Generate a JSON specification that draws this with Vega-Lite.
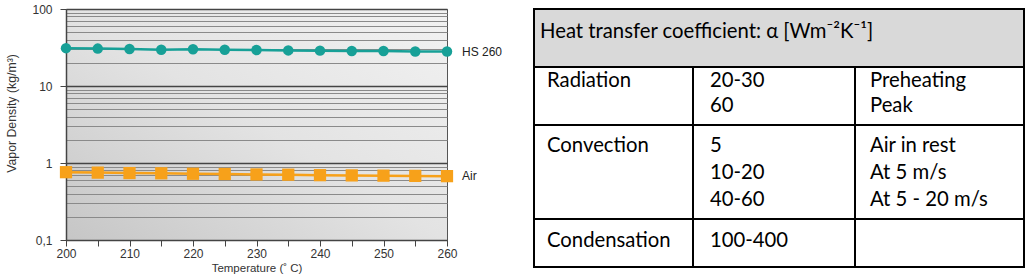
{
  "$schema": "https://vega.github.io/schema/vega-lite/v6.json",
  "background": "white",
  "padding": {"left": 5, "top": 2, "right": 0, "bottom": 0},
  "spacing": 30,
  "bounds": "full",
  "datasets": {
    "vapor": [
      {"series": "HS 260", "temp": 200, "density": 31.0},
      {"series": "HS 260", "temp": 205, "density": 30.6},
      {"series": "HS 260", "temp": 210, "density": 30.3},
      {"series": "HS 260", "temp": 215, "density": 29.5},
      {"series": "HS 260", "temp": 220, "density": 30.0},
      {"series": "HS 260", "temp": 225, "density": 29.6},
      {"series": "HS 260", "temp": 230, "density": 29.3},
      {"series": "HS 260", "temp": 235, "density": 29.0},
      {"series": "HS 260", "temp": 240, "density": 28.8},
      {"series": "HS 260", "temp": 245, "density": 28.5},
      {"series": "HS 260", "temp": 250, "density": 28.5},
      {"series": "HS 260", "temp": 255, "density": 28.1},
      {"series": "HS 260", "temp": 260, "density": 28.0},
      {"series": "Air", "temp": 200, "density": 0.76},
      {"series": "Air", "temp": 205, "density": 0.75},
      {"series": "Air", "temp": 210, "density": 0.74},
      {"series": "Air", "temp": 215, "density": 0.735},
      {"series": "Air", "temp": 220, "density": 0.725},
      {"series": "Air", "temp": 225, "density": 0.72},
      {"series": "Air", "temp": 230, "density": 0.71},
      {"series": "Air", "temp": 235, "density": 0.705},
      {"series": "Air", "temp": 240, "density": 0.695},
      {"series": "Air", "temp": 245, "density": 0.69},
      {"series": "Air", "temp": 250, "density": 0.685},
      {"series": "Air", "temp": 255, "density": 0.68},
      {"series": "Air", "temp": 260, "density": 0.675}
    ],
    "cells": [
      {"left": 0, "right": 490, "top": 0, "bottom": 58, "kind": "header"},
      {"left": 0, "right": 159, "top": 58, "bottom": 116, "kind": "body"},
      {"left": 159, "right": 321, "top": 58, "bottom": 116, "kind": "body"},
      {"left": 321, "right": 490, "top": 58, "bottom": 116, "kind": "body"},
      {"left": 0, "right": 159, "top": 116, "bottom": 210, "kind": "body"},
      {"left": 159, "right": 321, "top": 116, "bottom": 210, "kind": "body"},
      {"left": 321, "right": 490, "top": 116, "bottom": 210, "kind": "body"},
      {"left": 0, "right": 159, "top": 210, "bottom": 258, "kind": "body"},
      {"left": 159, "right": 321, "top": 210, "bottom": 258, "kind": "body"},
      {"left": 321, "right": 490, "top": 210, "bottom": 258, "kind": "body"}
    ],
    "texts": [
      {"x": 6, "y": 23, "text": "Heat transfer coefficient: α [Wm⁻²K⁻¹]"},
      {"x": 13, "y": 72, "text": "Radiation"},
      {"x": 176, "y": 72, "text": "20-30"},
      {"x": 176, "y": 97, "text": "60"},
      {"x": 336, "y": 72, "text": "Preheating"},
      {"x": 336, "y": 97, "text": "Peak"},
      {"x": 13, "y": 137, "text": "Convection"},
      {"x": 176, "y": 137, "text": "5"},
      {"x": 176, "y": 164, "text": "10-20"},
      {"x": 176, "y": 191, "text": "40-60"},
      {"x": 336, "y": 137, "text": "Air in rest"},
      {"x": 336, "y": 164, "text": "At 5 m/s"},
      {"x": 336, "y": 191, "text": "At 5 - 20 m/s"},
      {"x": 13, "y": 232, "text": "Condensation"},
      {"x": 176, "y": 232, "text": "100-400"}
    ]
  },
  "hconcat": [
    {
      "width": 381,
      "height": 231,
      "view": {
        "stroke": "#555555",
        "strokeWidth": 1,
        "fill": {
          "gradient": "linear",
          "x1": 0, "y1": 1, "x2": 1, "y2": 0,
          "stops": [
            {"offset": 0, "color": "#c6c6c6"},
            {"offset": 0.5, "color": "#e3e3e3"},
            {"offset": 1, "color": "#f2f2f2"}
          ]
        }
      },
      "data": {"name": "vapor"},
      "encoding": {
        "x": {
          "field": "temp", "type": "quantitative",
          "scale": {"domain": [200, 260], "nice": false, "zero": false},
          "axis": {
            "title": "Temperature (˚  C)",
            "values": [200, 205, 210, 215, 220, 225, 230, 235, 240, 245, 250, 255, 260],
            "labelExpr": "datum.value % 10 == 0 ? datum.label : ''",
            "labelFlush": false,
            "grid": false,
            "domainColor": "#444444",
            "tickColor": "#444444",
            "tickSize": 6,
            "labelFont": "Liberation Sans",
            "labelFontSize": 12,
            "labelColor": "#333333",
            "labelPadding": 2,
            "titleFont": "Liberation Sans",
            "titleFontSize": 11.5,
            "titleFontWeight": "normal",
            "titleColor": "#333333",
            "titlePadding": 3
          }
        },
        "y": {
          "field": "density", "type": "quantitative",
          "scale": {"type": "log", "domain": [0.1, 100], "nice": false},
          "axis": {
            "title": "Vapor Density (kg/m³)",
            "values": [0.1, 0.2, 0.3, 0.4, 0.5, 0.6, 0.7, 0.8, 0.9, 1, 2, 3, 4, 5, 6, 7, 8, 9, 10, 20, 30, 40, 50, 60, 70, 80, 90, 100],
            "labelExpr": "datum.value == 0.1 ? '0,1' : (datum.value == 1 ? '1' : (datum.value == 10 ? '10' : (datum.value == 100 ? '100' : '')))",
            "labelFlush": false,
            "grid": true,
            "gridColor": {"condition": {"test": "datum.value == 0.1 || datum.value == 1 || datum.value == 10 || datum.value == 100", "value": "#444444"}, "value": "#8a8a8a"},
            "gridWidth": {"condition": {"test": "datum.value == 0.1 || datum.value == 1 || datum.value == 10 || datum.value == 100", "value": 1.5}, "value": 1},
            "tickColor": {"condition": {"test": "datum.value == 0.1 || datum.value == 1 || datum.value == 10 || datum.value == 100", "value": "#444444"}, "value": "transparent"},
            "tickSize": 6,
            "domainColor": "#444444",
            "domainWidth": 1.5,
            "labelFont": "Liberation Sans",
            "labelFontSize": 12,
            "labelColor": "#333333",
            "labelPadding": 8,
            "labelOverlap": false,
            "titleFont": "Liberation Sans",
            "titleFontSize": 12.3,
            "titleFontWeight": "normal",
            "titleColor": "#333333",
            "titleY": 104,
            "titlePadding": 13
          }
        },
        "color": {
          "field": "series", "type": "nominal",
          "scale": {"domain": ["HS 260", "Air"], "range": ["#17a097", "#f7a11a"]},
          "legend": null
        }
      },
      "layer": [
        {"mark": {"type": "line", "strokeWidth": 2.5}},
        {
          "mark": {"type": "point", "filled": true, "opacity": 1},
          "encoding": {
            "shape": {"field": "series", "type": "nominal", "scale": {"domain": ["HS 260", "Air"], "range": ["circle", "square"]}, "legend": null},
            "size": {"field": "series", "type": "nominal", "scale": {"domain": ["HS 260", "Air"], "range": [110, 150]}, "legend": null}
          }
        },
        {
          "transform": [{"filter": "datum.temp == 260"}],
          "mark": {"type": "text", "align": "left", "dx": 15, "font": "Liberation Sans", "fontSize": 12, "color": "#222222"},
          "encoding": {"text": {"field": "series"}, "color": {"value": "#222222"}}
        }
      ]
    },
    {
      "width": 490,
      "height": 258,
      "view": {"stroke": null, "fill": null},
      "layer": [
        {
          "data": {"name": "cells"},
          "mark": {"type": "rect", "stroke": "#000000", "strokeWidth": 2},
          "encoding": {
            "x": {"field": "left", "type": "quantitative", "scale": {"domain": [0, 490], "nice": false, "zero": false}, "axis": null},
            "x2": {"field": "right"},
            "y": {"field": "top", "type": "quantitative", "scale": {"domain": [0, 258], "nice": false, "zero": false, "reverse": true}, "axis": null},
            "y2": {"field": "bottom"},
            "fill": {"field": "kind", "type": "nominal", "scale": {"domain": ["header", "body"], "range": ["#d9d9d9", "#ffffff"]}, "legend": null}
          }
        },
        {
          "data": {"name": "texts"},
          "mark": {"type": "text", "align": "left", "baseline": "middle", "font": "Lato", "fontSize": 20.3, "color": "#000000"},
          "encoding": {
            "x": {"field": "x", "type": "quantitative"},
            "y": {"field": "y", "type": "quantitative"},
            "text": {"field": "text"}
          }
        }
      ]
    }
  ],
  "config": {"axis": {"domain": true}}
}
